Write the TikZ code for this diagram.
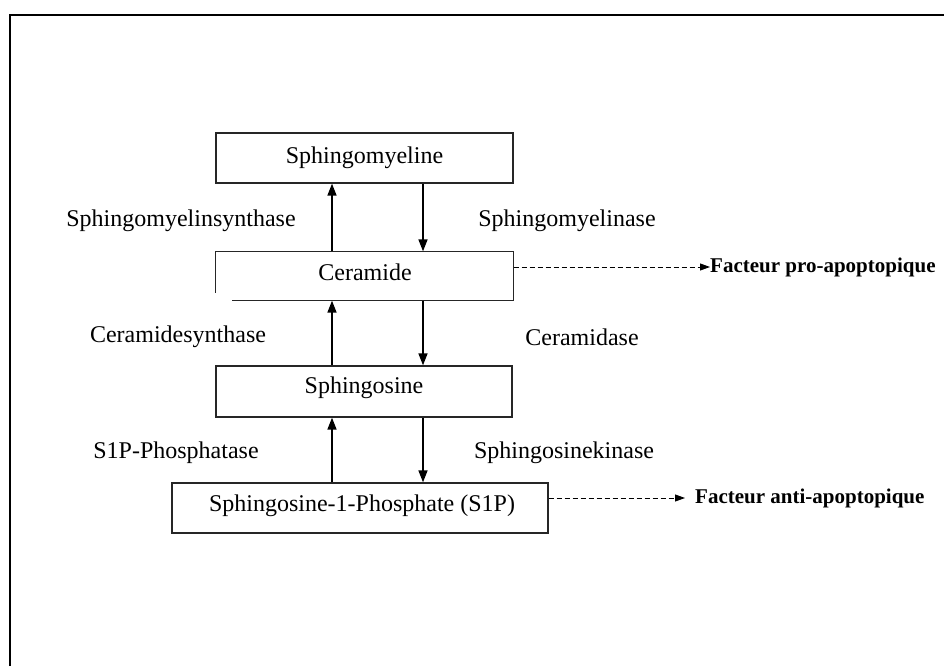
\documentclass[tikz,border=0pt]{standalone}
\usepackage{fontspec}
\setmainfont{Liberation Serif}
\usetikzlibrary{arrows.meta,calc}
\begin{document}
\begin{tikzpicture}[x=1pt,y=-1pt,
  box/.style={draw=black!85,line width=1.3pt,minimum width=#1,minimum height=50pt,inner sep=0pt,font=\fontsize{24}{28}\selectfont},
  lbl/.style={inner sep=0pt,font=\fontsize{24}{28}\selectfont},
  blbl/.style={inner sep=0pt,anchor=west,font=\fontsize{21}{25}\selectfont\bfseries},
  arr/.style={line width=1.5pt,-{Triangle[length=12pt,width=9pt]}},
  darr/.style={line width=0.9pt,dash pattern=on 5pt off 3pt,-{Triangle[length=10pt,width=7pt]}},
  frame/.style={line width=2pt}]
\useasboundingbox (0,0) rectangle (944,666);
\draw[frame] (10,666) -- (10,15) -- (944,15);
% boxes
\node[box=297pt,minimum height=50pt] (sm) at (364.5,158) {Sphingomyeline};
\node[box=297pt,draw=none,minimum height=48pt] (cer) at (364.5,276) {};
\node[lbl] (certxt) at (365,272) {Ceramide};
\draw[black!85,line width=1.3pt] ($(cer.south west)+(17,0)$) -- (cer.south east) -- (cer.north east) -- (cer.north west) -- ($(cer.south west)+(0,-8)$);
\node[box=296pt,minimum height=51pt] (sph) at (364,391.5) {};
\node[lbl] (sphtxt) at (364,388) {Sphingosine};
\node[box=376pt,minimum height=50pt] (s1p) at (360,508) {};
\node[lbl] (s1ptxt) at (362,506) {Sphingosine-1-Phosphate (S1P)};
% arrow columns
\coordinate (up) at (332,0);
\coordinate (dn) at (423,0);
\draw[arr] (up |- cer.north) -- (up |- sm.south);
\draw[arr] (dn |- sm.south) -- (dn |- cer.north);
\draw[arr] (up |- sph.north) -- (up |- cer.south);
\draw[arr] (dn |- cer.south) -- (dn |- sph.north);
\draw[arr] (up |- s1p.north) -- (up |- sph.south);
\draw[arr] (dn |- sph.south) -- (dn |- s1p.north);
% enzyme labels
\node[lbl] (l1) at (181,221) {Sphingomyelinsynthase};
\node[lbl] (l2) at (567,221) {Sphingomyelinase};
\node[lbl] (l3) at (178,337) {Ceramidesynthase};
\node[lbl] (l4) at (582,337) {Ceramidase};
\node[lbl] (l5) at (176,453) {S1P-Phosphatase};
\node[lbl] (l6) at (564,453) {Sphingosinekinase};
% factors
\node[blbl] (pro) at (710,267) {Facteur pro-apoptopique};
\node[blbl] (anti) at (695,498) {Facteur anti-apoptopique};
\draw[darr] (cer.east |- pro.west) -- (pro.west);
\draw[darr] (s1p.east |- anti.west) -- ($(anti.west)+(-10,0)$);
\end{tikzpicture}
\end{document}
